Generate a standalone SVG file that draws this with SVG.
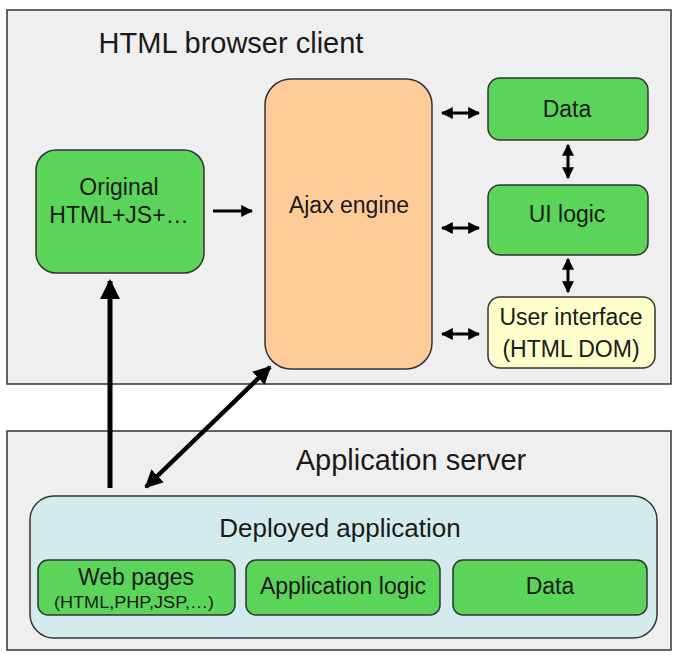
<svg xmlns="http://www.w3.org/2000/svg" width="680" height="660" viewBox="0 0 680 660">
<style>
text{font-family:"Liberation Sans",Arial,sans-serif;fill:#1a1a1a;text-anchor:middle}
.cont{fill:#efefef;stroke:#333;stroke-width:1.5}
.g{fill:#5ad55a;stroke:#333;stroke-width:1.5}
.lbl{font-size:23px}
.ttl{font-size:29px}
.ln{stroke:#000;fill:none}
</style>
<defs>
<marker id="ah" viewBox="0 0 10 10" refX="9" refY="5" markerWidth="4" markerHeight="4" orient="auto-start-reverse" markerUnits="strokeWidth">
<path d="M0,0 L10,5 L0,10 z" fill="#000"/>
</marker>
<marker id="ah2" viewBox="0 0 10 10" refX="9" refY="5" markerWidth="4" markerHeight="4.3" orient="auto-start-reverse" markerUnits="strokeWidth">
<path d="M0,0 L10,5 L0,10 z" fill="#000"/>
</marker>
</defs>
<rect width="680" height="660" fill="#fff"/>
<g id="browser">
<rect class="cont" x="7" y="10" width="664" height="374"/>
<text class="ttl" x="231" y="53">HTML browser client</text>
</g>
<g id="server">
<rect class="cont" x="7" y="431" width="664" height="219"/>
<text class="ttl" x="411" y="470">Application server</text>
</g>
<g id="original">
<rect class="g" x="36" y="150" width="168" height="123" rx="20"/>
<text class="lbl" x="119" y="195">Original</text>
<text class="lbl" x="119" y="223">HTML+JS+…</text>
</g>
<g id="ajax">
<rect x="265" y="79" width="167" height="290" rx="26" fill="#ffcc99" stroke="#333" stroke-width="1.5"/>
<text class="lbl" x="349" y="213">Ajax engine</text>
</g>
<g id="data-client">
<rect class="g" x="488" y="78" width="160" height="62" rx="12"/>
<text class="lbl" x="567" y="117">Data</text>
</g>
<g id="ui-logic">
<rect class="g" x="488" y="185" width="160" height="70" rx="12"/>
<text class="lbl" x="567" y="222">UI logic</text>
</g>
<g id="user-interface">
<rect x="488" y="297" width="167" height="71" rx="12" fill="#ffffcc" stroke="#333" stroke-width="1.5"/>
<text class="lbl" x="571" y="325">User interface</text>
<text class="lbl" x="571" y="357">(HTML DOM)</text>
</g>
<g id="deployed">
<rect x="30" y="496" width="627" height="142" rx="24" fill="#d4ebee" stroke="#333" stroke-width="1.5"/>
<text x="340" y="537" style="font-size:26px">Deployed application</text>
</g>
<g id="web-pages">
<rect class="g" x="38" y="560" width="197" height="55" rx="10"/>
<text class="lbl" x="136" y="585">Web pages</text>
<text x="134" y="608" style="font-size:16px" textLength="160" lengthAdjust="spacingAndGlyphs">(HTML,PHP,JSP,…)</text>
</g>
<g id="app-logic">
<rect class="g" x="246" y="560" width="194" height="55" rx="10"/>
<text class="lbl" x="343" y="594">Application logic</text>
</g>
<g id="data-server">
<rect class="g" x="453" y="560" width="194" height="55" rx="10"/>
<text class="lbl" x="550" y="594">Data</text>
</g>
<g id="connectors">
<line class="ln" x1="213" y1="211" x2="252" y2="211" stroke-width="3" marker-end="url(#ah2)"/>
<line class="ln" x1="442" y1="113" x2="479" y2="113" stroke-width="3" marker-start="url(#ah2)" marker-end="url(#ah2)"/>
<line class="ln" x1="442" y1="228" x2="479" y2="228" stroke-width="3" marker-start="url(#ah2)" marker-end="url(#ah2)"/>
<line class="ln" x1="442" y1="334" x2="479" y2="334" stroke-width="3" marker-start="url(#ah2)" marker-end="url(#ah2)"/>
<line class="ln" x1="568" y1="145" x2="568" y2="178" stroke-width="3" marker-start="url(#ah2)" marker-end="url(#ah2)"/>
<line class="ln" x1="568" y1="259" x2="568" y2="292" stroke-width="3" marker-start="url(#ah2)" marker-end="url(#ah2)"/>
<line class="ln" x1="110" y1="488" x2="110" y2="281" stroke-width="5" marker-end="url(#ah)"/>
<line class="ln" x1="146" y1="487" x2="270" y2="367" stroke-width="4.5" marker-start="url(#ah)" marker-end="url(#ah)"/>
</g>
</svg>
